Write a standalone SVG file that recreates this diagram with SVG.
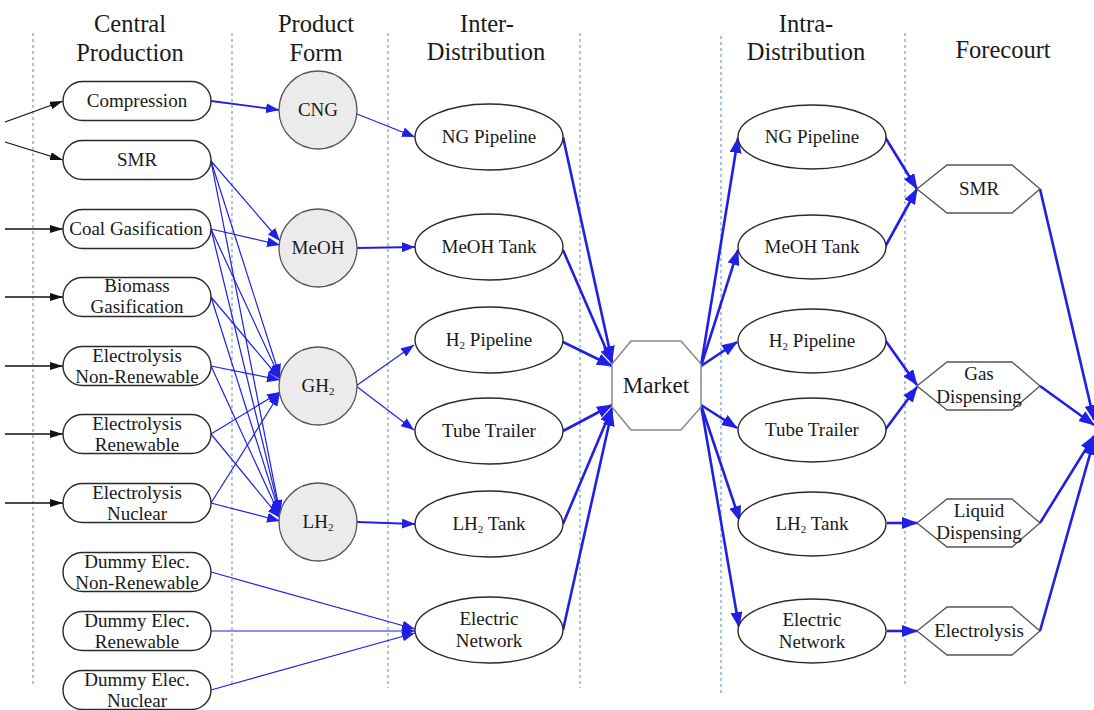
<svg xmlns="http://www.w3.org/2000/svg" width="1094" height="710" viewBox="0 0 1094 710">
<defs>
<style>
text{font-family:"Liberation Serif","Times New Roman",serif;fill:#1a1a1a;text-anchor:middle}
.hdr{font-size:24.5px}
.lbl{font-size:19px}
.mk{font-size:23px}
.sep{stroke:#7fa3d4;stroke-width:1.3;stroke-dasharray:3 3;fill:none}
.stad{fill:#fff;stroke:#2a2a2a;stroke-width:1.4}
.circ{fill:#ebebeb;stroke:#555;stroke-width:1.3}
.ell{fill:#fff;stroke:#2a2a2a;stroke-width:1.4}
.oct{fill:#fff;stroke:#888;stroke-width:1.5}
.hex{fill:#fff;stroke:#555;stroke-width:1.3}
.bk{stroke:#111;stroke-width:1.3;fill:none;marker-end:url(#ak)}
.th{stroke:#1f1fe6;stroke-width:1.2;fill:none;marker-end:url(#ab)}
.md{stroke:#1f1fe6;stroke-width:1.8;fill:none;marker-end:url(#ab)}
.tk{stroke:#1f1fe6;stroke-width:2.6;fill:none;marker-end:url(#at)}
</style>
<marker id="ak" viewBox="0 0 13 8" refX="13" refY="4" markerWidth="13" markerHeight="8" markerUnits="userSpaceOnUse" orient="auto"><path d="M0,0L13,4L0,8z" fill="#111"/></marker>
<marker id="ab" viewBox="0 0 13 10" refX="13" refY="5" markerWidth="13" markerHeight="10" markerUnits="userSpaceOnUse" orient="auto"><path d="M0,0L13,5L0,10z" fill="#1f1fe6"/></marker>
<marker id="at" viewBox="0 0 16 12" refX="15" refY="6" markerWidth="16" markerHeight="12" markerUnits="userSpaceOnUse" orient="auto"><path d="M0,0L16,6L0,12z" fill="#1f1fe6"/></marker>
</defs>
<rect width="1094" height="710" fill="#fff"/>

<g id="separators">
<line class="sep" x1="33" y1="33" x2="33" y2="687"/>
<line class="sep" x1="232" y1="33" x2="232" y2="687"/>
<line class="sep" x1="388" y1="33" x2="388" y2="688"/>
<line class="sep" x1="580" y1="33" x2="580" y2="688"/>
<line class="sep" x1="721" y1="36" x2="721" y2="693"/>
<line class="sep" x1="905" y1="33" x2="905" y2="687"/>
</g>

<g id="headers">
<text class="hdr" x="130" y="32">Central</text>
<text class="hdr" x="130" y="61">Production</text>
<text class="hdr" x="316" y="32">Product</text>
<text class="hdr" x="316" y="61">Form</text>
<text class="hdr" x="487" y="32">Inter-</text>
<text class="hdr" x="486" y="60">Distribution</text>
<text class="hdr" x="806" y="32">Intra-</text>
<text class="hdr" x="806" y="60">Distribution</text>
<text class="hdr" x="1003" y="58">Forecourt</text>
</g>

<g id="connectors">
<line class="bk" x1="5" y1="122" x2="63" y2="101"/>
<line class="bk" x1="5" y1="142" x2="63" y2="160"/>
<line class="bk" x1="5" y1="229" x2="63" y2="229"/>
<line class="bk" x1="5" y1="297" x2="63" y2="297"/>
<line class="bk" x1="5" y1="366" x2="63" y2="366"/>
<line class="bk" x1="5" y1="434" x2="63" y2="434"/>
<line class="bk" x1="5" y1="503" x2="63" y2="503"/>
<line class="md" x1="211" y1="101" x2="279" y2="110"/>
<line class="th" x1="211" y1="161" x2="280" y2="241"/>
<line class="th" x1="211" y1="161" x2="280" y2="377"/>
<line class="th" x1="211" y1="161" x2="280" y2="513"/>
<line class="th" x1="211" y1="229" x2="280" y2="245"/>
<line class="th" x1="211" y1="229" x2="280" y2="378"/>
<line class="th" x1="211" y1="229" x2="280" y2="514"/>
<line class="th" x1="211" y1="297" x2="280" y2="379"/>
<line class="th" x1="211" y1="297" x2="280" y2="515"/>
<line class="th" x1="211" y1="366" x2="280" y2="380"/>
<line class="th" x1="211" y1="366" x2="280" y2="516"/>
<line class="th" x1="211" y1="434" x2="280" y2="392"/>
<line class="th" x1="211" y1="434" x2="280" y2="518"/>
<line class="th" x1="211" y1="503" x2="280" y2="393"/>
<line class="th" x1="211" y1="503" x2="280" y2="521"/>
<line class="th" x1="211" y1="572" x2="415" y2="629"/>
<line class="th" x1="211" y1="631" x2="415" y2="631"/>
<line class="th" x1="211" y1="690" x2="415" y2="633"/>
<line class="th" x1="357" y1="114" x2="415" y2="137"/>
<line class="md" x1="357" y1="248" x2="415" y2="247"/>
<line class="th" x1="356" y1="386" x2="414" y2="345"/>
<line class="th" x1="356" y1="386" x2="414" y2="430"/>
<line class="md" x1="357" y1="522" x2="415" y2="524"/>
<line class="tk" x1="563" y1="137" x2="612" y2="361"/>
<line class="tk" x1="563" y1="250" x2="612" y2="363"/>
<line class="tk" x1="563" y1="342" x2="612" y2="366"/>
<line class="tk" x1="563" y1="431" x2="612" y2="405"/>
<line class="tk" x1="563" y1="524" x2="612" y2="408"/>
<line class="tk" x1="563" y1="630" x2="612" y2="411"/>
<line class="tk" x1="701" y1="366" x2="738" y2="138"/>
<line class="tk" x1="701" y1="366" x2="738" y2="250"/>
<line class="tk" x1="701" y1="366" x2="737" y2="342"/>
<line class="tk" x1="701" y1="405" x2="737" y2="428"/>
<line class="tk" x1="701" y1="405" x2="740" y2="521"/>
<line class="tk" x1="701" y1="405" x2="739" y2="627"/>
<line class="tk" x1="885" y1="137" x2="917" y2="189"/>
<line class="tk" x1="885" y1="247" x2="917" y2="189"/>
<line class="tk" x1="885" y1="340" x2="917" y2="385"/>
<line class="tk" x1="885" y1="430" x2="917" y2="387"/>
<line class="tk" x1="887" y1="523" x2="917" y2="523"/>
<line class="tk" x1="887" y1="631" x2="917" y2="631"/>
<line class="tk" x1="1040" y1="189" x2="1094" y2="420"/>
<line class="tk" x1="1040" y1="386" x2="1094" y2="425"/>
<line class="tk" x1="1040" y1="523" x2="1094" y2="436"/>
<line class="tk" x1="1040" y1="631" x2="1094" y2="440"/>
</g>

<g id="n-compression"><rect class="stad" x="63" y="81.5" width="148" height="39" rx="19.5"/><text class="lbl" x="137" y="107">Compression</text></g>
<g id="n-smr"><rect class="stad" x="63" y="140.5" width="148" height="39" rx="19.5"/><text class="lbl" x="137" y="166">SMR</text></g>
<g id="n-coal"><rect class="stad" x="63" y="209.5" width="148" height="39" rx="19.5"/><text class="lbl" x="136" y="235">Coal Gasification</text></g>
<g id="n-biomass"><rect class="stad" x="63" y="277.5" width="148" height="39" rx="19.5"/><text class="lbl" x="137" y="292">Biomass</text><text class="lbl" x="137" y="313">Gasification</text></g>
<g id="n-elec-nr"><rect class="stad" x="63" y="346.5" width="148" height="39" rx="19.5"/><text class="lbl" x="137" y="362">Electrolysis</text><text class="lbl" x="137" y="383">Non-Renewable</text></g>
<g id="n-elec-r"><rect class="stad" x="63" y="414.5" width="148" height="39" rx="19.5"/><text class="lbl" x="137" y="430">Electrolysis</text><text class="lbl" x="137" y="451">Renewable</text></g>
<g id="n-elec-n"><rect class="stad" x="63" y="483.5" width="148" height="39" rx="19.5"/><text class="lbl" x="137" y="499">Electrolysis</text><text class="lbl" x="137" y="520">Nuclear</text></g>
<g id="n-dummy-nr"><rect class="stad" x="63" y="552.5" width="148" height="39" rx="19.5"/><text class="lbl" x="137" y="568">Dummy Elec.</text><text class="lbl" x="137" y="589">Non-Renewable</text></g>
<g id="n-dummy-r"><rect class="stad" x="63" y="611.5" width="148" height="39" rx="19.5"/><text class="lbl" x="137" y="627">Dummy Elec.</text><text class="lbl" x="137" y="648">Renewable</text></g>
<g id="n-dummy-n"><rect class="stad" x="63" y="670.5" width="148" height="39" rx="19.5"/><text class="lbl" x="137" y="686">Dummy Elec.</text><text class="lbl" x="137" y="707">Nuclear</text></g>

<g id="n-cng"><circle class="circ" cx="318" cy="110" r="39"/><text class="lbl" x="318" y="116">CNG</text></g>
<g id="n-meoh"><circle class="circ" cx="318" cy="248" r="39"/><text class="lbl" x="318" y="254">MeOH</text></g>
<g id="n-gh2"><circle class="circ" cx="318" cy="386" r="39"/><text class="lbl" x="318" y="392">GH<tspan font-size="11" dy="3">2</tspan></text></g>
<g id="n-lh2"><circle class="circ" cx="318" cy="522" r="39"/><text class="lbl" x="318" y="528">LH<tspan font-size="11" dy="3">2</tspan></text></g>

<g id="n-inter-ng"><ellipse class="ell" cx="489" cy="137" rx="74" ry="33"/><text class="lbl" x="489" y="143">NG Pipeline</text></g>
<g id="n-inter-meoh"><ellipse class="ell" cx="489" cy="247" rx="74" ry="33"/><text class="lbl" x="489" y="253">MeOH Tank</text></g>
<g id="n-inter-h2"><ellipse class="ell" cx="489" cy="340" rx="74" ry="33"/><text class="lbl" x="489" y="346">H<tspan font-size="11" dy="3">2</tspan><tspan dy="-3"> Pipeline</tspan></text></g>
<g id="n-inter-tube"><ellipse class="ell" cx="489" cy="431" rx="74" ry="33"/><text class="lbl" x="489" y="437">Tube Trailer</text></g>
<g id="n-inter-lh2"><ellipse class="ell" cx="489" cy="524" rx="74" ry="33"/><text class="lbl" x="489" y="530">LH<tspan font-size="11" dy="3">2</tspan><tspan dy="-3"> Tank</tspan></text></g>
<g id="n-inter-elec"><ellipse class="ell" cx="489" cy="630" rx="74" ry="33"/><text class="lbl" x="489" y="625">Electric</text><text class="lbl" x="489" y="647">Network</text></g>

<g id="n-market"><polygon class="oct" points="631,341 681,341 701,364 701,407 681,430 631,430 612,407 612,364"/><text class="mk" x="656" y="393">Market</text></g>

<g id="n-intra-ng"><ellipse class="ell" cx="812" cy="137" rx="74" ry="32"/><text class="lbl" x="812" y="143">NG Pipeline</text></g>
<g id="n-intra-meoh"><ellipse class="ell" cx="812" cy="247" rx="74" ry="32"/><text class="lbl" x="812" y="253">MeOH Tank</text></g>
<g id="n-intra-h2"><ellipse class="ell" cx="812" cy="341" rx="74" ry="32"/><text class="lbl" x="812" y="347">H<tspan font-size="11" dy="3">2</tspan><tspan dy="-3"> Pipeline</tspan></text></g>
<g id="n-intra-tube"><ellipse class="ell" cx="812" cy="430" rx="74" ry="32"/><text class="lbl" x="812" y="436">Tube Trailer</text></g>
<g id="n-intra-lh2"><ellipse class="ell" cx="812" cy="524" rx="74" ry="32"/><text class="lbl" x="812" y="530">LH<tspan font-size="11" dy="3">2</tspan><tspan dy="-3"> Tank</tspan></text></g>
<g id="n-intra-elec"><ellipse class="ell" cx="812" cy="631" rx="74" ry="32"/><text class="lbl" x="812" y="626">Electric</text><text class="lbl" x="812" y="648">Network</text></g>

<g id="n-fc-smr"><polygon class="hex" points="917,189 947,165 1012,165 1040,189 1012,213 947,213"/><text class="lbl" x="979" y="195">SMR</text></g>
<g id="n-fc-gas"><polygon class="hex" points="917,386 947,362 1012,362 1040,386 1012,410 947,410"/><text class="lbl" x="979" y="380">Gas</text><text class="lbl" x="979" y="403">Dispensing</text></g>
<g id="n-fc-liquid"><polygon class="hex" points="917,523 947,499 1012,499 1040,523 1012,547 947,547"/><text class="lbl" x="979" y="517">Liquid</text><text class="lbl" x="979" y="539">Dispensing</text></g>
<g id="n-fc-elec"><polygon class="hex" points="917,631 947,607 1012,607 1040,631 1012,655 947,655"/><text class="lbl" x="979" y="637">Electrolysis</text></g>
</svg>
